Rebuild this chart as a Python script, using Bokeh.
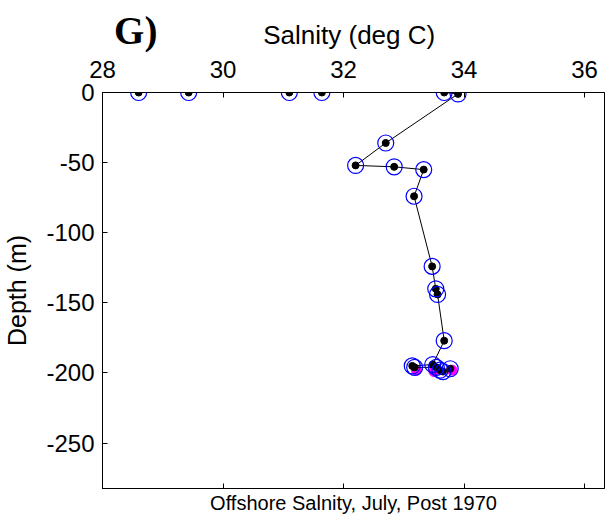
from bokeh.plotting import figure
from bokeh.layouts import column
from bokeh.models import LinearAxis, FixedTicker, Range1d
from bokeh.core.properties import value
from bokeh.embed import file_html
from bokeh.resources import INLINE

# Offshore salinity profile (salinity, depth)
salinity = [28.6, 29.43, 31.1, 31.64, 33.67, 33.9, 32.70, 32.2, 32.84, 33.33, 33.17,
            33.47, 33.53, 33.56, 33.67, 33.48, 33.14, 33.18, 33.54, 33.6, 33.65, 33.77]
depth = [0, 0, 0, 0, 0, -1, -36, -52, -53, -55, -74,
         -124, -140, -144, -177, -194, -195, -196, -196, -198, -199, -197]

# second series (magenta)
sal2 = [33.21, 33.5, 33.8]
dep2 = [-198, -199, -198]

x_ticks = [28, 30, 32, 34, 36]
y_ticks = [-250, -200, -150, -100, -50, 0]
y_tick_labels = ["-250", "-200", "-150", "-100", "-50", "0"]

panel_label = "G)"
x_title = "Salnity (deg C)"
y_title = "Depth (m)"
bottom_title = "Offshore Salnity, July, Post 1970"

FONT = "Liberation Sans"

# ---- header strip with the panel letter and the top axis title ----
HEAD_H = 52
head = figure(width=601, frame_height=HEAD_H, output_backend="svg", toolbar_location=None,
              x_range=Range1d(97, 599), y_range=Range1d(0, HEAD_H),
              x_axis_type=None, y_axis_type=None,
              min_border_top=0, min_border_bottom=0, min_border_left=0, min_border_right=0)
head.grid.visible = False
head.outline_line_color = None
head.background_fill_color = "white"
head.border_fill_color = "white"
head.text(x=[108.7], y=[HEAD_H - 30], text=[panel_label],
          text_font=value("Liberation Serif"), text_font_size="39px",
          text_font_style="bold", text_color="black", text_baseline="alphabetic",
          text_align="left")
head.text(x=[346.2], y=[HEAD_H - 34.5], text=[x_title],
          text_font=value(FONT), text_font_size="26px",
          text_color="black", text_baseline="alphabetic", text_align="center")

# ---- main plot ----
p = figure(frame_width=502, frame_height=396, output_backend="svg", toolbar_location=None,
           x_range=Range1d(28, 36.33), y_range=Range1d(-282.4, 0),
           x_axis_location="above",
           min_border_left=97, min_border_right=2, min_border_top=40, min_border_bottom=30)
p.grid.visible = False
p.outline_line_color = "black"
p.outline_line_width = 1
p.background_fill_color = "white"
p.border_fill_color = "white"

def style_axis(ax, ticks):
    ax.ticker = FixedTicker(ticks=ticks)
    ax.major_tick_in = 5
    ax.major_tick_out = 0
    ax.minor_tick_in = 0
    ax.minor_tick_out = 0
    ax.axis_line_color = "black"
    ax.major_tick_line_color = "black"
    ax.major_label_text_font = FONT
    ax.major_label_text_font_size = "24px"
    ax.major_label_text_color = "black"
    ax.axis_label_text_font = FONT
    ax.axis_label_text_font_size = "25px"
    ax.axis_label_text_font_style = "normal"
    ax.axis_label_text_color = "black"

xa = p.xaxis[0]
style_axis(xa, x_ticks)
xa.major_label_standoff = 15

ya = p.yaxis[0]
style_axis(ya, y_ticks)
ya.major_label_overrides = dict(zip(y_ticks, y_tick_labels))
ya.axis_label = y_title
ya.major_label_standoff = 8
ya.axis_label_standoff = 12

bottom = LinearAxis()
style_axis(bottom, x_ticks)
bottom.major_label_text_font_size = "0px"
bottom.major_label_standoff = 0
bottom.axis_label = bottom_title
bottom.axis_label_text_font_size = "20px"
bottom.axis_label_standoff = 3
p.add_layout(bottom, "below")

p.scatter(sal2, dep2, size=10, marker="circle", fill_color="magenta", line_color="magenta")
p.line(salinity, depth, line_color="black", line_width=1)
p.scatter(salinity, depth, size=7, marker="circle", fill_color="black", line_color="black")
p.scatter(salinity, depth, size=16, marker="circle", fill_color=None, line_color="blue", line_width=1.2)

layout = column(head, p, spacing=0)
open("out.html", "w").write(file_html(layout, INLINE))
